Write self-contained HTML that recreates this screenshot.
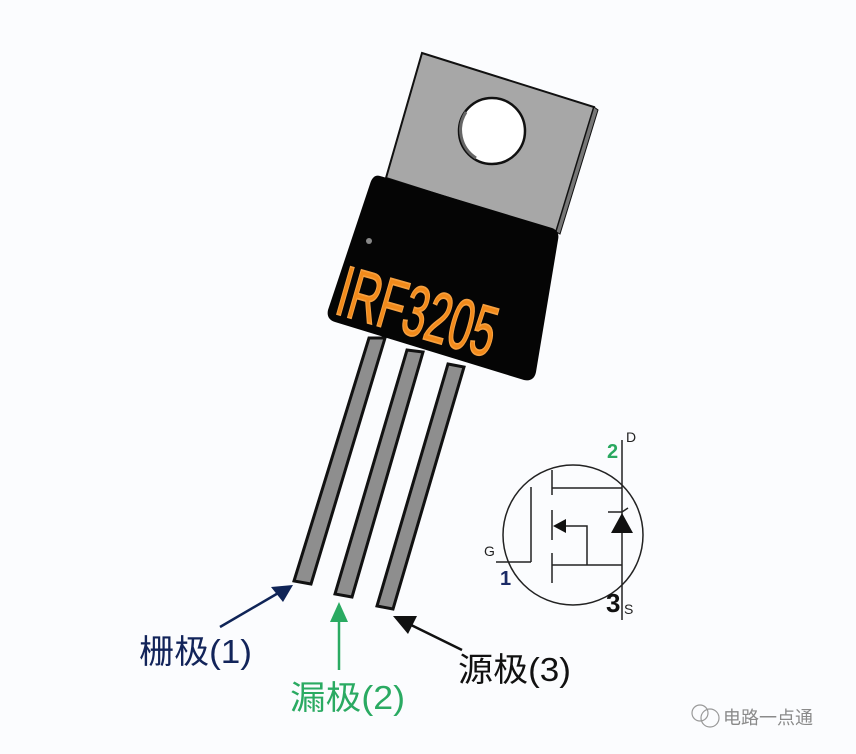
<!DOCTYPE html>
<html><head><meta charset="utf-8"><style>
html,body{margin:0;padding:0;background:#fbfcfe;}
svg{display:block}
</style></head><body>
<svg width="856" height="754" viewBox="0 0 856 754" xmlns="http://www.w3.org/2000/svg">
<rect width="856" height="754" fill="#fbfcfe"/>
<!-- tab -->
<polygon points="422,53 594,107 556,232 386,178" fill="#a7a7a7" stroke="#111" stroke-width="2"/>
<polygon points="594,107 598,110 560,234 556,232" fill="#777" stroke="#111" stroke-width="1"/>
<circle cx="492" cy="131" r="33" fill="#fff" stroke="#111" stroke-width="2.5"/>
<path d="M466,112 A33,33 0 0 0 476,158" fill="none" stroke="#666" stroke-width="3"/>
<!-- leads -->
<g stroke="#111" stroke-width="3" fill="#8e8e8e">
<polygon points="369,338 385,338 311,584 294,581"/>
<polygon points="407,350 423,352 352,597 335,594"/>
<polygon points="448,364 464,367 393,609 377,606"/>
</g>
<!-- body -->
<path d="M380,176 L552,228 Q560,231 558,240 L536,372 Q534,382 524,380 L335,322 Q326,319 328,310 L370,184 Q373,174 380,176 Z" fill="#050505"/>
<circle cx="369" cy="241" r="3" fill="#888"/>
<text x="0" y="0" transform="translate(333,313) rotate(16) scale(0.66,1.12)" font-family="Liberation Sans, sans-serif" font-size="64" fill="#f28a1a" stroke="#f6a040" stroke-width="1.5">IRF3205</text>
<!-- symbol -->
<g fill="none" stroke="#222" stroke-width="1.5">
<circle cx="573" cy="535" r="70"/>
<line x1="622" y1="440" x2="622" y2="620"/>
<line x1="496" y1="562" x2="531" y2="562"/>
<line x1="531" y1="487" x2="531" y2="562"/>
<line x1="552" y1="470" x2="552" y2="495"/>
<line x1="552" y1="510" x2="552" y2="540"/>
<line x1="552" y1="553" x2="552" y2="583"/>
<line x1="552" y1="488" x2="622" y2="488"/>
<line x1="552" y1="565" x2="622" y2="565"/>
<polyline points="558,526 587,526 587,565"/>
<path d="M608,512 L622,512 L628,508"/>
</g>
<polygon points="553,526 566,519 566,533" fill="#111"/>
<polygon points="611,533 622,513 633,533" fill="#111"/>
<text x="626" y="442" font-family="Liberation Sans, sans-serif" font-size="14" fill="#222">D</text>
<text x="607" y="458" font-family="Liberation Sans, sans-serif" font-size="20" font-weight="bold" fill="#2aa860">2</text>
<text x="484" y="556" font-family="Liberation Sans, sans-serif" font-size="14" fill="#222">G</text>
<text x="500" y="585" font-family="Liberation Sans, sans-serif" font-size="20" font-weight="bold" fill="#1a2a66">1</text>
<text x="606" y="612" font-family="Liberation Sans, sans-serif" font-size="26" font-weight="bold" fill="#111">3</text>
<text x="624" y="614" font-family="Liberation Sans, sans-serif" font-size="14" fill="#222">S</text>
<!-- arrows -->
<line x1="220" y1="627" x2="280" y2="592" stroke="#0f2457" stroke-width="2.5"/>
<polygon points="293,585 271,587 283,602" fill="#0f2457"/>
<line x1="339" y1="670" x2="339" y2="615" stroke="#2aaa62" stroke-width="2.5"/>
<polygon points="339,602 330,622 348,622" fill="#2aaa62"/>
<line x1="462" y1="650" x2="405" y2="622" stroke="#111" stroke-width="2.5"/>
<polygon points="393,616 417,616 408,634" fill="#111"/>
<!-- labels -->
<g font-family="Liberation Sans, 'Noto Sans CJK SC', sans-serif" font-size="33">
<text x="139" y="663" fill="#12245a" textLength="113" lengthAdjust="spacingAndGlyphs">栅极(1)</text>
<text x="290" y="709" fill="#2aaa62" textLength="115" lengthAdjust="spacingAndGlyphs">漏极(2)</text>
<text x="458" y="681" fill="#111" textLength="113" lengthAdjust="spacingAndGlyphs">源极(3)</text>
</g>
<!-- watermark -->
<g fill="none" stroke="#999" stroke-width="1.2">
<circle cx="700" cy="713" r="8"/>
<circle cx="710" cy="718" r="9"/>
</g>
<text x="723" y="724" font-family="'Noto Sans CJK SC', sans-serif" font-size="18" fill="#8a8a8a">电路一点通</text>
</svg>
</body></html>
